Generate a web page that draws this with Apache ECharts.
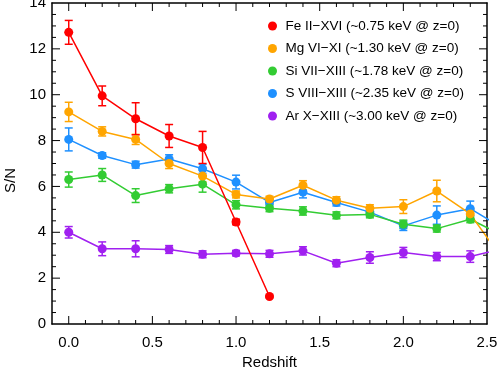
<!DOCTYPE html>
<html>
<head>
<meta charset="utf-8">
<script src="https://cdn.jsdelivr.net/npm/echarts@6/dist/echarts.min.js"></script>
<style>
  html, body { margin: 0; padding: 0; background: #fff; }
  #chart { width: 498px; height: 367px; }
</style>
</head>
<body>
<div id="chart"></div>
<script>
  // redshift bins (last one sits past the axis end, only its line segment shows)
  var redshift = [0.0, 0.2, 0.4, 0.6, 0.8, 1.0, 1.2, 1.4, 1.6, 1.8, 2.0, 2.2, 2.4, 2.6];

  var feSN  = [12.72, 9.95, 8.95, 8.2, 7.7, 4.45, 1.2];
  var feErr = [0.52, 0.43, 0.7, 0.5, 0.7, 0.12, 0.05];

  var mgSN  = [9.25, 8.4, 8.05, 7.0, 6.45, 5.65, 5.45, 6.05, 5.4, 5.05, 5.12, 5.8, 4.8, 2.75];
  var mgErr = [0.42, 0.2, 0.22, 0.22, 0.25, 0.15, 0.12, 0.2, 0.15, 0.15, 0.3, 0.47, 0.2, 0.2];

  var siSN  = [6.3, 6.5, 5.6, 5.9, 6.1, 5.2, 5.05, 4.93, 4.74, 4.78, 4.35, 4.16, 4.57, 3.83];
  var siErr = [0.33, 0.28, 0.3, 0.18, 0.35, 0.18, 0.15, 0.18, 0.15, 0.15, 0.18, 0.15, 0.15, 0.15];

  var sSN   = [8.05, 7.35, 6.95, 7.2, 6.77, 6.19, 5.3, 5.75, 5.3, 4.88, 4.28, 4.75, 5.03, 4.15];
  var sErr  = [0.5, 0.12, 0.15, 0.18, 0.2, 0.3, 0.15, 0.25, 0.15, 0.2, 0.2, 0.4, 0.33, 0.2];

  var arSN  = [4.0, 3.28, 3.28, 3.25, 3.04, 3.09, 3.06, 3.19, 2.65, 2.9, 3.12, 2.94, 2.94, 3.3];
  var arErr = [0.25, 0.3, 0.35, 0.17, 0.15, 0.12, 0.15, 0.18, 0.15, 0.25, 0.22, 0.18, 0.25, 0.2];

  // tick marks (IDL style, inward on all four sides)
  var xMajor = [0.0, 0.5, 1.0, 1.5, 2.0];
  var xMinor = [0.1, 0.2, 0.3, 0.4, 0.6, 0.7, 0.8, 0.9, 1.1, 1.2, 1.3, 1.4, 1.6, 1.7, 1.8, 1.9, 2.1, 2.2, 2.3, 2.4];
  var yMajor = [2, 4, 6, 8, 10, 12];
  var yMinor = [0.5, 1, 1.5, 2.5, 3, 3.5, 4.5, 5, 5.5, 6.5, 7, 7.5, 8.5, 9, 9.5, 10.5, 11, 11.5, 12.5, 13, 13.5];

  var xMin = -0.1, xMax = 2.5, yMin = 0, yMax = 14;

  var curves = [
    { name: 'Fe II\u2212XVI (~0.75 keV @ z=0)', color: '#ff0000', sn: feSN, err: feErr },
    { name: 'Mg VI\u2212XI (~1.30 keV @ z=0)', color: '#ffa500', sn: mgSN, err: mgErr },
    { name: 'Si VII\u2212XIII (~1.78 keV @ z=0)', color: '#33cc33', sn: siSN, err: siErr },
    { name: 'S VIII\u2212XIII (~2.35 keV @ z=0)', color: '#1e90ff', sn: sSN, err: sErr },
    { name: 'Ar X\u2212XIII (~3.00 keV @ z=0)', color: '#a020f0', sn: arSN, err: arErr }
  ];

  var font = 'Liberation Sans';

  function errBar(color) {
    return function (params, api) {
      var x = api.value(0), y = api.value(1), e = api.value(2);
      var t = api.coord([x, y + e]);
      var b = api.coord([x, y - e]);
      var hw = 4;
      var st = { stroke: color, lineWidth: 1.5 };
      return {
        type: 'group',
        children: [
          { type: 'line', shape: { x1: t[0], y1: t[1], x2: b[0], y2: b[1] }, style: st },
          { type: 'line', shape: { x1: t[0] - hw, y1: t[1], x2: t[0] + hw, y2: t[1] }, style: st },
          { type: 'line', shape: { x1: b[0] - hw, y1: b[1], x2: b[0] + hw, y2: b[1] }, style: st }
        ]
      };
    };
  }

  // kind: 0 major x, 1 minor x, 2 major y, 3 minor y
  function tickItem(params, api) {
    var v = api.value(0), kind = api.value(1);
    var len = (kind === 0 || kind === 2) ? 8 : 4;
    var st = { stroke: '#000', lineWidth: 1 };
    var p, q;
    if (kind < 2) {
      p = api.coord([v, yMin]); q = api.coord([v, yMax]);
      return { type: 'group', children: [
        { type: 'line', shape: { x1: p[0], y1: p[1], x2: p[0], y2: p[1] - len }, style: st },
        { type: 'line', shape: { x1: q[0], y1: q[1], x2: q[0], y2: q[1] + len }, style: st }
      ] };
    }
    p = api.coord([xMin, v]); q = api.coord([xMax, v]);
    return { type: 'group', children: [
      { type: 'line', shape: { x1: p[0], y1: p[1], x2: p[0] + len, y2: p[1] }, style: st },
      { type: 'line', shape: { x1: q[0], y1: q[1], x2: q[0] - len, y2: q[1] }, style: st }
    ] };
  }

  var tickData = [];
  xMajor.forEach(function (v) { tickData.push([v, 0]); });
  xMinor.forEach(function (v) { tickData.push([v, 1]); });
  yMajor.forEach(function (v) { tickData.push([v, 2]); });
  yMinor.forEach(function (v) { tickData.push([v, 3]); });

  var seriesList = [];

  // draw purple first, red last (on top)
  for (var k = curves.length - 1; k >= 0; k--) {
    var c = curves[k];
    var pts = [], ebs = [];
    for (var i = 0; i < c.sn.length; i++) {
      pts.push([redshift[i], c.sn[i]]);
      ebs.push([redshift[i], c.sn[i], c.err[i]]);
    }
    seriesList.push({
      name: c.name,
      type: 'custom',
      clip: true,
      renderItem: errBar(c.color),
      data: ebs,
      z: 2
    });
    seriesList.push({
      name: c.name,
      type: 'line',
      data: pts,
      symbol: 'circle',
      symbolSize: 9,
      showSymbol: true,
      clip: true,
      itemStyle: { color: c.color },
      lineStyle: { color: c.color, width: 1.5 },
      z: 3
    });
  }

  seriesList.push({
    name: 'ticks',
    type: 'custom',
    clip: true,
    renderItem: tickItem,
    data: tickData,
    z: 10
  });

  var boxLine = { show: true, onZero: false, lineStyle: { color: '#000', width: 1.5 } };

  var chart = echarts.init(document.getElementById('chart'), null, { renderer: 'canvas' });
  chart.setOption({
    animation: false,
    grid: {
      left: 52, right: 11, top: 3, bottom: 43,
      containLabel: false, outerBoundsMode: 'none'
    },
    legend: {
      orient: 'vertical',
      left: 263,
      top: 14,
      icon: 'circle',
      itemWidth: 16,
      itemHeight: 9,
      itemGap: 8.5,
      textStyle: { fontFamily: font, fontSize: 13.5, color: '#000', lineHeight: 14 },
      data: curves.map(function (c) { return { name: c.name, itemStyle: { color: c.color } }; })
    },
    xAxis: [{
      type: 'value',
      min: xMin,
      max: xMax,
      axisLine: boxLine,
      axisTick: { show: false },
      splitLine: { show: false },
      axisLabel: {
        margin: 11, fontFamily: font, fontSize: 15, color: '#000',
        formatter: function (v) { return v < -0.01 ? '' : v.toFixed(1); }
      },
      name: 'Redshift',
      nameLocation: 'middle',
      nameGap: 31,
      nameTextStyle: { fontFamily: font, fontSize: 15, color: '#000' }
    }, {
      type: 'value',
      position: 'top',
      min: xMin,
      max: xMax,
      axisLine: boxLine,
      axisTick: { show: false },
      axisLabel: { show: false },
      splitLine: { show: false }
    }],
    yAxis: [{
      type: 'value',
      min: yMin,
      max: yMax,
      interval: 2,
      axisLine: boxLine,
      axisTick: { show: false },
      splitLine: { show: false },
      axisLabel: { margin: 6, fontFamily: font, fontSize: 15, color: '#000' },
      name: 'S/N',
      nameLocation: 'middle',
      nameGap: 32,
      nameTextStyle: { fontFamily: font, fontSize: 15, color: '#000', padding: [0, 34, 0, 0] }
    }, {
      type: 'value',
      position: 'right',
      min: yMin,
      max: yMax,
      interval: 2,
      axisLine: boxLine,
      axisTick: { show: false },
      axisLabel: { show: false },
      splitLine: { show: false }
    }],
    series: seriesList
  });
</script>
</body>
</html>
